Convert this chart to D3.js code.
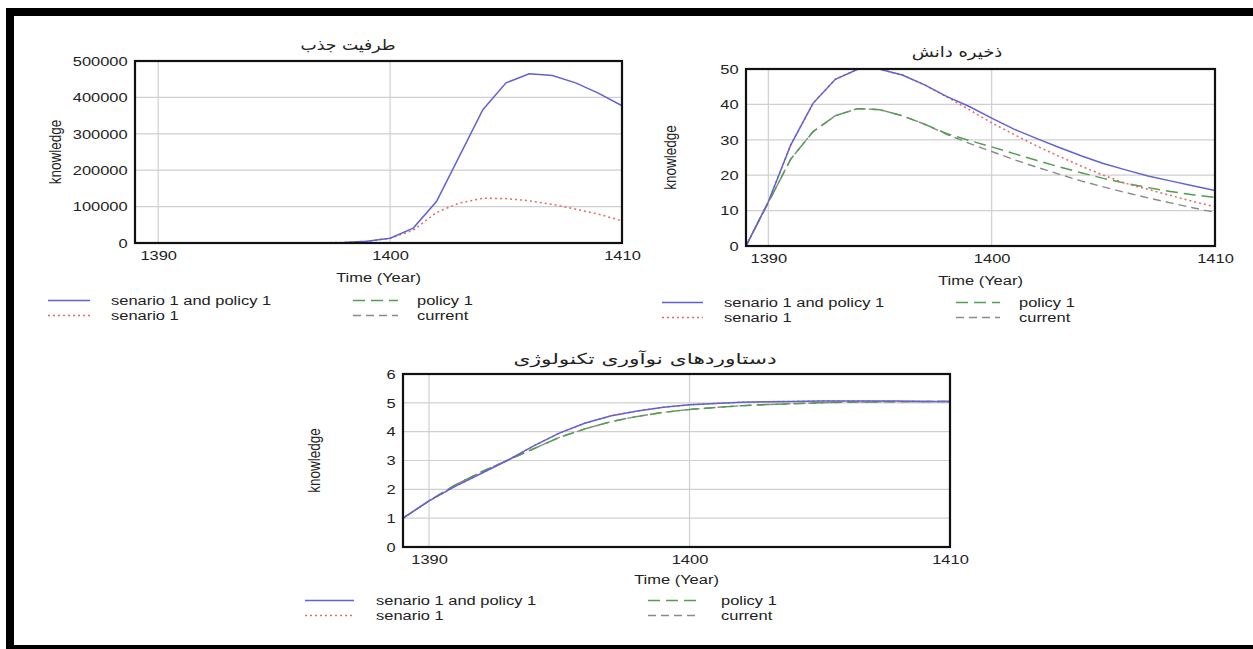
<!DOCTYPE html>
<html>
<head>
<meta charset="utf-8">
<script src="https://cdn.jsdelivr.net/npm/d3@7"></script>
<style>
  body { margin: 0; background: #fff; }
  svg text { font-family: "Liberation Sans", Arial, sans-serif; fill: #222; }
</style>
</head>
<body>
<div id="chart"></div>
<script>
// years on the x axis (one simulation step per year)
const years = [1389, 1390, 1391, 1392, 1393, 1394, 1395, 1396, 1397, 1398, 1399,
               1400, 1401, 1402, 1403, 1404, 1405, 1406, 1407, 1408, 1409, 1410];
const xTicks = [1390, 1400, 1410];

const seriesNames = ["senario 1 and policy 1", "senario 1", "policy 1", "current"];

// absorptive capacity
const capacityScenarioPolicy = [0, 0, 0, 0, 0, 0, 0, 200, 600, 1500, 4600, 13000, 41000, 114000,
                                240000, 366000, 440000, 465000, 460000, 440000, 411000, 377000];
const capacityScenario = [0, 0, 0, 0, 0, 0, 0, 200, 600, 1500, 4600, 13000, 35000, 84000,
                          110000, 123000, 122000, 116000, 106000, 93000, 79000, 61000];
const capacityPolicy = [0, 0, 0, 0, 0, 0, 0, 0, 50, 100, 200, 400, 600, 800,
                        900, 1000, 1000, 1000, 900, 900, 800, 800];
const capacityCurrent = [0, 0, 0, 0, 0, 0, 0, 0, 50, 100, 150, 250, 350, 450,
                         500, 550, 550, 550, 500, 500, 450, 450];
const capacityTicks = [0, 100000, 200000, 300000, 400000, 500000];

// knowledge stock
const stockScenarioPolicy = [0, 12.5, 28.5, 40.3, 47.1, 49.9, 49.9, 48.3, 45.5, 42.2, 39.4,
                             36.1, 33.0, 30.4, 27.9, 25.5, 23.3, 21.5, 19.8, 18.4, 17.0, 15.7];
const stockScenario = [0, 12.5, 28.5, 40.3, 47.1, 49.9, 49.9, 48.3, 45.5, 42.1, 38.5,
                       34.8, 31.5, 28.3, 25.4, 22.6, 20.0, 17.7, 16.0, 14.3, 12.6, 11.1];
const stockPolicy = [0, 12.3, 24.5, 32.3, 36.8, 38.8, 38.5, 36.8, 34.4, 31.7, 29.8,
                     28.0, 26.1, 24.2, 22.4, 20.7, 19.1, 17.7, 16.5, 15.4, 14.5, 13.7];
const stockCurrent = [0, 12.3, 24.5, 32.3, 36.8, 38.8, 38.5, 36.8, 34.4, 31.5, 29.0,
                      26.7, 24.4, 22.3, 20.3, 18.4, 16.7, 15.1, 13.6, 12.2, 10.8, 9.5];
const stockTicks = [0, 10, 20, 30, 40, 50];

// technology innovation achievements
const innovScenarioPolicy = [1.0, 1.6, 2.1, 2.55, 3.0, 3.5, 3.95, 4.3, 4.55, 4.72, 4.85,
                             4.93, 4.98, 5.02, 5.04, 5.05, 5.06, 5.06, 5.06, 5.06, 5.05, 5.05];
const innovScenario = [1.0, 1.6, 2.1, 2.55, 3.0, 3.5, 3.95, 4.3, 4.55, 4.72, 4.85,
                       4.93, 4.98, 5.02, 5.04, 5.05, 5.06, 5.06, 5.06, 5.05, 5.05, 5.05];
const innovPolicy = [1.0, 1.6, 2.15, 2.6, 3.0, 3.4, 3.8, 4.1, 4.35, 4.53, 4.67,
                     4.77, 4.84, 4.9, 4.94, 4.97, 5.0, 5.02, 5.03, 5.04, 5.05, 5.05];
const innovCurrent = [1.0, 1.6, 2.15, 2.6, 3.0, 3.4, 3.8, 4.1, 4.35, 4.53, 4.67,
                      4.77, 4.84, 4.9, 4.94, 4.97, 5.0, 5.02, 5.03, 5.04, 5.05, 5.05];
const innovTicks = [0, 1, 2, 3, 4, 5, 6];

// line styles, same order as seriesNames
const styles = [
  { color: "#6262d2", dash: null, width: 1.5 },
  { color: "#e36a6a", dash: "2,3", width: 1.5 },
  { color: "#4f9f4f", dash: "12,6", width: 1.5 },
  { color: "#8a8a8a", dash: "8,5", width: 1.4 }
];

// the source picture is stretched sideways, so text is too
const SX = 1.22;
const W = 1253, H = 649;

const svg = d3.select("#chart").append("svg")
  .attr("width", W)
  .attr("height", H);

function addText(g, x, y, str, anchor, size, rotate, family, sx) {
  const t = g.append("text")
    .attr("transform", "translate(" + x + "," + y + ") scale(" + (sx || SX) + ",1)" + (rotate ? " rotate(-90)" : ""))
    .attr("text-anchor", anchor)
    .style("font-size", size + "px")
    .text(str);
  if (family) t.style("font-family", family);
  return t;
}

function drawPanel(p) {
  const g = svg.append("g");

  const x = d3.scaleLinear()
    .domain([years[0], years[years.length - 1]])
    .range([p.left, p.left + p.width]);

  const y = d3.scaleLinear()
    .domain([0, p.yTicks[p.yTicks.length - 1]])
    .range([p.top + p.height, p.top]);

  // Gridlines
  g.selectAll(".hgrid").data(p.yTicks).enter().append("line")
    .attr("x1", p.left).attr("x2", p.left + p.width)
    .attr("y1", d => y(d)).attr("y2", d => y(d))
    .attr("stroke", "#cfcfcf").attr("stroke-width", 1.2);

  g.selectAll(".vgrid").data(xTicks).enter().append("line")
    .attr("x1", d => x(d)).attr("x2", d => x(d))
    .attr("y1", p.top).attr("y2", p.top + p.height)
    .attr("stroke", "#cfcfcf").attr("stroke-width", 1.2);

  // Y axis labels
  const yAxis = g.append("g")
    .attr("transform", "translate(" + p.left + ",0)")
    .call(d3.axisLeft(y).tickValues(p.yTicks).tickSize(0).tickPadding(6).tickFormat(d3.format("d")));
  yAxis.select(".domain").remove();
  yAxis.selectAll("text")
    .attr("font-family", null).attr("font-size", null)
    .style("font-size", "13.5px")
    .attr("transform", "scale(" + SX + ",1)");

  // X axis labels
  const xAxis = g.append("g")
    .attr("transform", "translate(0," + (p.top + p.height) + ")")
    .call(d3.axisBottom(x).tickValues(xTicks).tickSize(0).tickPadding(7).tickFormat(d3.format("d")));
  xAxis.select(".domain").remove();
  xAxis.selectAll("text")
    .attr("font-family", null).attr("font-size", null)
    .style("font-size", "13.5px")
    .attr("transform", "scale(" + SX + ",1)");

  // Lines (drawn back to front so the solid one sits on top)
  const line = d3.line()
    .x((d, i) => x(years[i]))
    .y(d => y(d));

  [3, 2, 1, 0].forEach(function(k) {
    g.append("path")
      .datum(p.series[k])
      .attr("fill", "none")
      .attr("stroke", styles[k].color)
      .attr("stroke-width", styles[k].width)
      .attr("stroke-dasharray", styles[k].dash)
      .attr("d", line);
  });

  // Plot frame
  g.append("rect")
    .attr("x", p.left).attr("y", p.top)
    .attr("width", p.width).attr("height", p.height)
    .attr("fill", "none")
    .attr("stroke", "#111")
    .attr("stroke-width", 2.2);

  // Titles
  addText(g, p.titleX, p.titleY, p.title, "middle", 15, false, "'DejaVu Sans', sans-serif", p.titleSX);
  addText(g, p.left + p.width / 2, p.timeY, "Time (Year)", "middle", 13.5);
  addText(g, p.knowX, p.top + p.height / 2, "knowledge", "middle", 13.5, true);

  // Legend, two columns and two rows
  const cols = [[0, 1], [2, 3]];
  cols.forEach(function(ids, c) {
    ids.forEach(function(k, r) {
      const ly = p.legendY + r * 15;
      g.append("line")
        .attr("x1", p.legend[c][0]).attr("x2", p.legend[c][1])
        .attr("y1", ly - 4.5).attr("y2", ly - 4.5)
        .attr("stroke", styles[k].color)
        .attr("stroke-width", styles[k].width)
        .attr("stroke-dasharray", styles[k].dash);
      addText(g, p.legend[c][2], ly, seriesNames[k], "start", 13.5);
    });
  });
}

drawPanel({
  left: 135, top: 61, width: 487, height: 182,
  yTicks: capacityTicks,
  series: [capacityScenarioPolicy, capacityScenario, capacityPolicy, capacityCurrent],
  title: "طرفیت جذب", titleX: 348, titleY: 50, titleSX: 1.15,
  knowX: 61, timeY: 282, legendY: 305,
  legend: [[48, 90, 111], [353, 398, 417]]
});

drawPanel({
  left: 746, top: 69, width: 469, height: 177,
  yTicks: stockTicks,
  series: [stockScenarioPolicy, stockScenario, stockPolicy, stockCurrent],
  title: "ذخیره دانش", titleX: 957, titleY: 57, titleSX: 1.2,
  knowX: 676, timeY: 285, legendY: 307,
  legend: [[662, 703, 724], [956, 1000, 1019]]
});

drawPanel({
  left: 403, top: 374, width: 547, height: 173,
  yTicks: innovTicks,
  series: [innovScenarioPolicy, innovScenario, innovPolicy, innovCurrent],
  title: "دستاوردهای نوآوری تکنولوژی", titleX: 645, titleY: 364, titleSX: 1.45,
  knowX: 320, timeY: 584, legendY: 605,
  legend: [[305, 354, 376], [648, 697, 721]]
});

// Black frame of the screenshot
svg.append("rect").attr("x", 6).attr("y", 8).attr("width", W - 6).attr("height", 8).attr("fill", "#000");
svg.append("rect").attr("x", 6).attr("y", 8).attr("width", 8).attr("height", H - 8).attr("fill", "#000");
svg.append("rect").attr("x", 6).attr("y", 645).attr("width", W - 6).attr("height", 4).attr("fill", "#000");
</script>
</body>
</html>
